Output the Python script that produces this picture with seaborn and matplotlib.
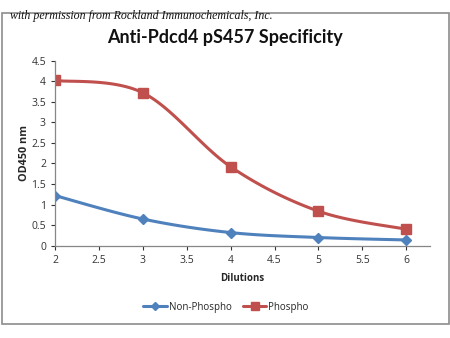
import numpy as np
import pandas as pd
import matplotlib
matplotlib.use("Agg")
import matplotlib.pyplot as plt
import seaborn as sns
from matplotlib.patches import Rectangle

dilutions = [2, 3, 4, 5, 6]
non_phospho = [1.22, 0.65, 0.32, 0.20, 0.14]
phospho = [4.02, 3.72, 1.92, 0.84, 0.40]
series_names = ["Non-Phospho", "Phospho"]
title = "Anti-Pdcd4 pS457 Specificity"
credit = "with permission from Rockland Immunochemicals, Inc."
xticks = [2, 2.5, 3, 3.5, 4, 4.5, 5, 5.5, 6]
yticks = [0, 0.5, 1, 1.5, 2, 2.5, 3, 3.5, 4, 4.5]

sns.set_theme(style="white")
plt.rcParams['font.family'] = ['Open Sans', 'DejaVu Sans']

def smooth(xs, ys, n=30):
    # Excel-style smoothed line (Catmull-Rom Bezier) through the data points
    xs = np.asarray(xs, float); ys = np.asarray(ys, float)
    P = np.column_stack([xs, ys])
    Pext = np.vstack([P[0], P, P[-1]])
    out = []
    t = np.linspace(0, 1, n)[:, None]
    for i in range(1, len(Pext) - 2):
        p0, p1, p2, p3 = Pext[i - 1], Pext[i], Pext[i + 1], Pext[i + 2]
        c1 = p1 + (p2 - p0) / 6
        c2 = p2 - (p3 - p1) / 6
        seg = ((1 - t) ** 3) * p1 + 3 * ((1 - t) ** 2) * t * c1 + 3 * (1 - t) * t ** 2 * c2 + t ** 3 * p2
        out.append(seg if i == 1 else seg[1:])
    s = np.vstack(out)
    return s[:, 0], s[:, 1]

fig = plt.figure(figsize=(4.5, 3.38), dpi=100)
ax = fig.add_axes([0.1222, 0.273, 0.8334, 0.5474])

colors = ["#4F81BD", "#C0504D"]
markers = ["D", "s"]
msizes = [5, 7]
for name, vals, c, m, ms in zip(series_names, [non_phospho, phospho], colors, markers, msizes):
    sx, sy = smooth(dilutions, vals)
    sline = pd.DataFrame({"x": sx, "y": sy})
    sns.lineplot(data=sline, x="x", y="y", ax=ax, color=c, lw=2.2, sort=False,
                 estimator=None, legend=False)
    pts = pd.DataFrame({"x": dilutions, "y": vals})
    ax.plot(pts["x"], pts["y"], ls="none", marker=m, ms=ms, color=c, mec=c)
    ax.plot([], [], color=c, lw=2.2, marker=m, ms=ms - 1, label=name)

ax.set_xlim(2, 6.27)
ax.set_ylim(0, 4.5)
ax.set_xticks(xticks)
ax.set_xticklabels([f"{v:g}" for v in xticks])
ax.set_yticks(yticks)
ax.set_yticklabels([f"{v:g}" for v in yticks])
ax.tick_params(axis="both", labelsize=7.5, colors="#333333", length=3, width=0.8,
               direction="out", bottom=True, left=True, pad=3.5)
for sp in ["top", "right"]:
    ax.spines[sp].set_visible(False)
for sp in ["left", "bottom"]:
    ax.spines[sp].set_color("#868686")
    ax.spines[sp].set_linewidth(0.9)
ax.set_xlabel("Dilutions", fontsize=7, fontweight="bold", labelpad=5)
ax.set_ylabel("OD450 nm", fontsize=7.8, fontweight="bold", labelpad=1)

ax.legend(loc="upper center", bbox_to_anchor=(0.456, -0.255), ncol=2, frameon=False,
          fontsize=7, handlelength=2.4, columnspacing=1.2, handletextpad=0.2)

fig.text(0.5, 0.888, title, ha="center", va="center", fontsize=13, fontweight="bold",
         color="#111111", family=["Lato", "DejaVu Sans"])
fig.text(0.022, 0.952, credit, ha="left", va="center", fontsize=8.6, style="italic",
         family=["Liberation Serif", "DejaVu Serif"], color="#111111")

fig.patches.append(Rectangle((2 / 450, 1 - 324 / 338), 447 / 450, 311 / 338,
                             transform=fig.transFigure, fill=False,
                             edgecolor="#8c8c8c", lw=1.2, zorder=0))

fig.savefig("out.png", dpi=100)
